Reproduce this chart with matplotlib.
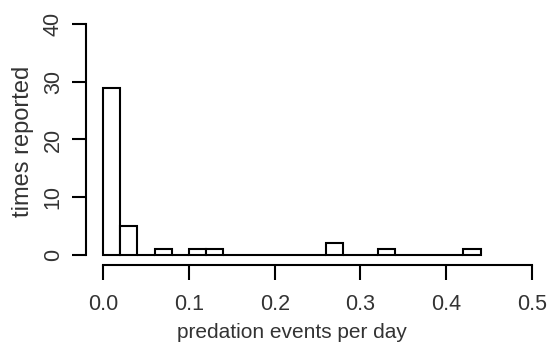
import numpy as np
import matplotlib
matplotlib.use('Agg')
import matplotlib.pyplot as plt

# histogram bins (width 0.02) and counts
bin_edges = np.round(np.arange(0, 0.46, 0.02), 2)
counts = [29, 5, 0, 1, 0, 1, 1, 0, 0, 0, 0, 0, 0, 2, 0, 0, 1, 0, 0, 0, 0, 1]
x_ticks = [0.0, 0.1, 0.2, 0.3, 0.4, 0.5]
y_ticks = [0, 10, 20, 30, 40]

plt.rcParams['font.family'] = ['Liberation Sans', 'DejaVu Sans']

fig = plt.figure(figsize=(5.47, 3.43), dpi=100)
ax = fig.add_axes([0.1572, 0.2274, 0.8311, 0.7195])

ax.bar(bin_edges[:-1], counts, width=0.02, align='edge',
       facecolor='white', edgecolor='black', linewidth=1.5)

ax.set_xlim(-0.02, 0.51)
ax.set_ylim(-1.73, 41)

for s in ['top', 'right']:
    ax.spines[s].set_visible(False)
ax.spines['left'].set_bounds(0, 40)
ax.spines['bottom'].set_bounds(0, 0.5)
ax.spines['left'].set_linewidth(1.5)
ax.spines['bottom'].set_linewidth(1.5)

ax.set_xticks(x_ticks)
ax.set_xticklabels(['0.0', '0.1', '0.2', '0.3', '0.4', '0.5'])
ax.set_yticks(y_ticks)
ax.set_yticklabels([str(v) for v in y_ticks], rotation=90, va='center')
ax.tick_params(axis='x', length=11, width=1.5, labelsize=15.5, colors='black',
               labelcolor='#333333', pad=10)
ax.tick_params(axis='y', length=10, width=1.5, labelsize=15.5, colors='black',
               labelcolor='#333333', pad=6)

ax.set_xlabel('predation events per day', fontsize=15, color='#333333')
ax.xaxis.set_label_coords(0.453, -0.235)
ax.set_ylabel('times reported', fontsize=17, color='#333333', labelpad=6)

fig.savefig('out.png', dpi=100)
